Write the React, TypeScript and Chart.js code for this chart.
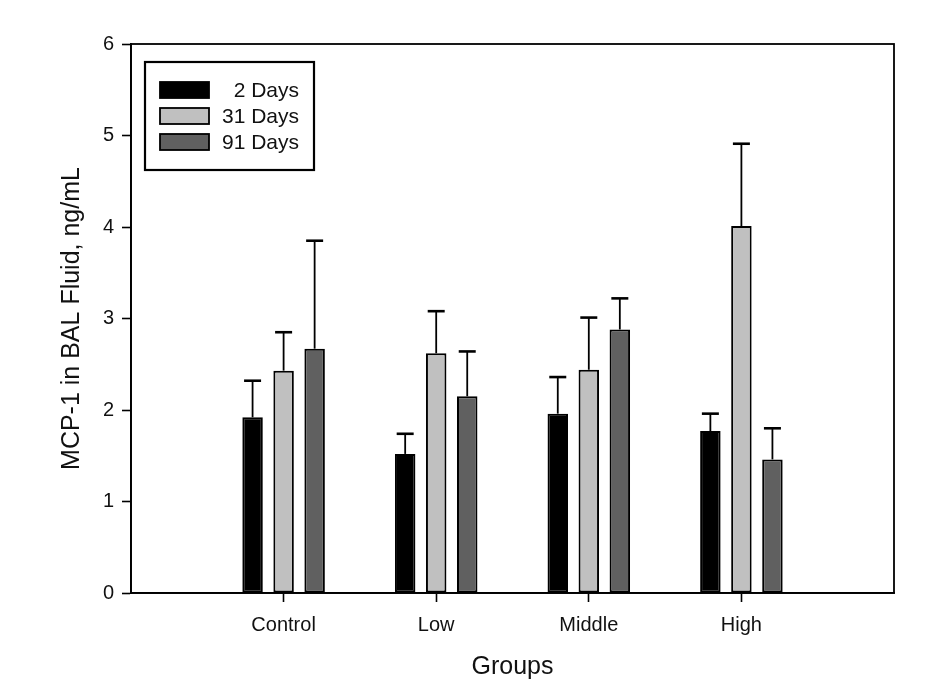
import React, { useEffect, useRef } from "react";
import { Chart, registerables } from "chart.js";

Chart.register(...registerables);

const categories = ["", "Control", "Low", "Middle", "High", ""];
const seriesNames = ["2 Days", "31 Days", "91 Days"];
const seriesColors = ["#000000", "#c0c0c0", "#606060"];
const days2 = [null, 1.92, 1.52, 1.96, 1.77, null];
const days31 = [null, 2.43, 2.62, 2.44, 4.01, null];
const days91 = [null, 2.67, 2.15, 2.88, 1.46, null];
const err2 = [null, 0.40, 0.22, 0.40, 0.19, null];
const err31 = [null, 0.42, 0.46, 0.57, 0.90, null];
const err91 = [null, 1.18, 0.49, 0.34, 0.34, null];
const yTicks = [0, 1, 2, 3, 4, 5, 6];

const FONT = "'Liberation Sans', Arial, sans-serif";

const errorBarPlugin = {
  id: "errorBars",
  afterDatasetsDraw(chart: any) {
    const ctx = chart.ctx;
    const yScale = chart.scales.y;
    const errs = [err2, err31, err91];
    chart.data.datasets.forEach((ds: any, di: number) => {
      const meta = chart.getDatasetMeta(di);
      meta.data.forEach((el: any, i: number) => {
        const v = ds.data[i];
        const e = errs[di][i];
        if (v == null || e == null) return;
        const yTop = yScale.getPixelForValue(v + e);
        const yBar = yScale.getPixelForValue(v);
        ctx.save();
        ctx.strokeStyle = "#000";
        ctx.lineWidth = 1.8;
        ctx.beginPath();
        ctx.moveTo(el.x, yBar);
        ctx.lineTo(el.x, yTop);
        ctx.stroke();
        ctx.lineWidth = 2.6;
        ctx.beginPath();
        ctx.moveTo(el.x - 8.5, yTop);
        ctx.lineTo(el.x + 8.5, yTop);
        ctx.stroke();
        ctx.restore();
      });
    });
  },
};

const frameLegendPlugin = {
  id: "frameLegend",
  afterDraw(chart: any) {
    const ctx = chart.ctx;
    const a = chart.chartArea;
    ctx.save();
    ctx.strokeStyle = "#000";
    ctx.lineWidth = 1.8;
    ctx.strokeRect(a.left, a.top, a.right - a.left, a.bottom - a.top);
    // legend
    const bx = a.left + 14;
    const by = a.top + 18;
    const bw = 169;
    const bh = 108;
    ctx.fillStyle = "#fff";
    ctx.fillRect(bx, by, bw, bh);
    ctx.lineWidth = 2.2;
    ctx.strokeRect(bx, by, bw, bh);
    ctx.font = `21px ${FONT}`;
    ctx.textAlign = "right";
    ctx.textBaseline = "middle";
    seriesNames.forEach((name, i) => {
      const cy = by + 28 + i * 26;
      ctx.fillStyle = seriesColors[i];
      ctx.fillRect(bx + 15, cy - 8, 49, 16);
      ctx.lineWidth = 1.8;
      ctx.strokeStyle = "#000";
      ctx.strokeRect(bx + 15, cy - 8, 49, 16);
      ctx.fillStyle = "#111";
      ctx.fillText(name, bx + 154, cy + 1);
    });
    ctx.restore();
  },
};

export default function App() {
  const ref = useRef<HTMLCanvasElement | null>(null);
  useEffect(() => {
    document.body.style.margin = "0";
    if (!ref.current) return;
    const data = [days2, days31, days91];
    const chart = new Chart(ref.current, {
      type: "bar",
      data: {
        labels: categories,
        datasets: seriesNames.map((n, i) => ({
          label: n,
          data: data[i] as any,
          backgroundColor: seriesColors[i],
          borderColor: "#000",
          borderWidth: 2,
          borderSkipped: false,
          categoryPercentage: 0.61,
          barPercentage: 0.66,
        })),
      },
      options: {
        animation: false,
        responsive: false,
        devicePixelRatio: 1,
        layout: { padding: { top: 44, right: 34, left: 0, bottom: 0 } },
        plugins: { legend: { display: false }, tooltip: { enabled: false } },
        scales: {
          x: {
            offset: false,
            afterFit: (s: any) => { s.height = 94; },
            grid: {
              offset: false,
              drawOnChartArea: false,
              tickLength: 9,
              tickWidth: 1.6,
              color: (c: any) => (c.index === 0 || c.index === categories.length - 1 ? "rgba(0,0,0,0)" : "#000"),
            },
            border: { display: true, color: "#000", width: 1.8 },
            ticks: { color: "#111", font: { family: FONT, size: 20 }, padding: 11, maxRotation: 0, autoSkip: false },
            title: { display: true, text: "Groups", color: "#111", font: { family: FONT, size: 25 }, padding: { top: 0, bottom: 5 } },
          },
          y: {
            min: 0,
            max: 6,
            afterFit: (s: any) => { s.width = 131; },
            afterBuildTicks: (s: any) => { s.ticks = yTicks.map((v) => ({ value: v })); },
            grid: { drawOnChartArea: false, tickLength: 9, tickWidth: 1.6, color: "#000" },
            border: { display: true, color: "#000", width: 1.8 },
            ticks: { color: "#111", font: { family: FONT, size: 20 }, padding: 8 },
            title: { display: true, text: "MCP-1 in BAL Fluid, ng/mL", color: "#111", font: { family: FONT, size: 25 }, padding: { top: 57, bottom: 0 } },
          },
        },
      },
      plugins: [errorBarPlugin, frameLegendPlugin],
    });
    return () => chart.destroy();
  }, []);
  return <canvas ref={ref} width={928} height={687} style={{ display: "block" }} />;
}
